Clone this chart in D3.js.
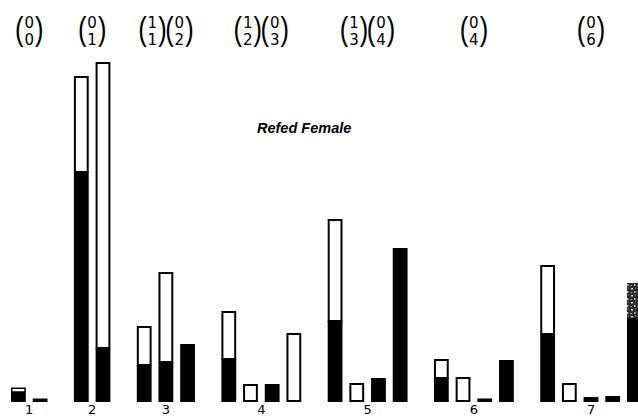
<!DOCTYPE html>
<html>
<head>
<meta charset="utf-8">
<script src="https://cdn.jsdelivr.net/npm/d3@7"></script>
<style>
  html, body { margin: 0; padding: 0; background: #fff; }
  svg { display: block; }
</style>
</head>
<body>
<svg id="chart" width="638" height="418"></svg>
<script>
// ---- data (arbitrary units) ----
const groups = ["1", "2", "3", "4", "5", "6", "7"];
const blackVals = [
  [1.0, 0.35],
  [23.0, 5.4],
  [3.7, 4.0, 5.8],
  [4.3, 0, 1.8, 0],
  [8.1, 0, 2.4, 15.4],
  [2.4, 0, 0.35, 4.2],
  [6.8, 0, 0.5, 0.6, 8.4]
];
const whiteVals = [
  [0.45, 0],
  [9.6, 28.6],
  [3.9, 9.0, 0],
  [4.8, 1.8, 0, 6.9],
  [10.2, 1.9, 0, 0],
  [1.9, 2.5, 0, 0],
  [6.9, 1.9, 0, 0, 0]
];
const stippleVals = [
  [0, 0],
  [0, 0],
  [0, 0, 0],
  [0, 0, 0, 0],
  [0, 0, 0, 0],
  [0, 0, 0, 0],
  [0, 0, 0, 0, 3.5]
];
// binomial-style annotations above each group: [top, bottom]
const topLabels = [
  [["0", "0"]],
  [["0", "1"]],
  [["1", "1"], ["0", "2"]],
  [["1", "2"], ["0", "3"]],
  [["1", "3"], ["0", "4"]],
  [["0", "4"]],
  [["0", "6"]]
];
const title = "Refed Female";

// ---- layout ----
const svg = d3.select("#chart");
const defs = svg.append("defs");
const pat = defs.append("pattern").attr("id", "stipple")
  .attr("width", 7).attr("height", 7).attr("patternUnits", "userSpaceOnUse");
pat.append("rect").attr("width", 7).attr("height", 7).attr("fill", "#2a2a2a");
pat.append("rect").attr("x", 1).attr("y", 1).attr("width", 2).attr("height", 1.5).attr("fill", "#ddd");
pat.append("rect").attr("x", 4).attr("y", 4).attr("width", 1.5).attr("height", 2).attr("fill", "#bbb");
pat.append("rect").attr("x", 5).attr("y", 0.5).attr("width", 1).attr("height", 1).attr("fill", "#999");
pat.append("rect").attr("x", 0.5).attr("y", 5).attr("width", 1.5).attr("height", 1).attr("fill", "#aaa");

const gapUnits = 0.9;       // extra space between groups, in bar steps
const barW = 14.8;
const bars = [];
let u = 0;
groups.forEach((g, gi) => {
  if (gi > 0) u += gapUnits;
  blackVals[gi].forEach((b, bi) => {
    bars.push({ group: gi, idx: bi, unit: u, black: b, white: whiteVals[gi][bi], stip: stippleVals[gi][bi] });
    u += 1;
  });
});
const lastUnit = u - 1;

const x = d3.scaleLinear().domain([0, lastUnit]).range([11, 627]);
const y = d3.scaleLinear().domain([0, 34]).range([402, 62]);

const groupCenter = groups.map((g, gi) => {
  const bs = bars.filter(b => b.group === gi);
  return (x(bs[0].unit) + x(bs[bs.length - 1].unit) + barW) / 2;
});

const gBars = svg.append("g");
bars.forEach(d => {
  const x0 = x(d.unit);
  if (d.black > 0) {
    gBars.append("rect")
      .attr("x", x0).attr("width", barW)
      .attr("y", y(d.black)).attr("height", y(0) - y(d.black))
      .attr("fill", "#000");
  }
  if (d.white > 0) {
    const top = y(d.black + d.white), bot = y(d.black);
    const sw = d.black > 0 && (bot - top) < 6 ? 1.5 : 2;
    gBars.append("rect")
      .attr("x", x0 + sw / 2).attr("width", barW - sw)
      .attr("y", top + sw / 2).attr("height", Math.max(0.5, bot - top - (d.black > 0 ? sw / 2 : sw)))
      .attr("fill", "#fff").attr("stroke", "#000").attr("stroke-width", sw);
  }
  if (d.stip > 0) {
    const base = d.black + d.white;
    gBars.append("rect")
      .attr("x", x0).attr("width", barW)
      .attr("y", y(base + d.stip)).attr("height", y(base) - y(base + d.stip))
      .attr("fill", "url(#stipple)");
  }
});

// bottom group labels
svg.append("g").selectAll("text").data(groups).join("text")
  .attr("x", (d, i) => groupCenter[i])
  .attr("y", 414)
  .attr("text-anchor", "middle")
  .attr("font-family", "DejaVu Sans, sans-serif")
  .attr("font-size", 13)
  .attr("fill", "#000")
  .text(d => d);

// top annotations
const pairW = 27;
const gTop = svg.append("g");
topLabels.forEach((pairs, gi) => {
  const total = pairs.length * pairW;
  const start = groupCenter[gi] - total / 2;
  pairs.forEach((p, pi) => {
    const cx = start + pi * pairW + pairW / 2;
    gTop.append("text")
      .attr("transform", `translate(${cx - 10},40) scale(0.75,1)`)
      .attr("text-anchor", "middle")
      .attr("font-family", "Liberation Sans, sans-serif")
      .attr("font-size", 34).attr("fill", "#000")
      .text("(");
    gTop.append("text")
      .attr("transform", `translate(${cx + 10},40) scale(0.75,1)`)
      .attr("text-anchor", "middle")
      .attr("font-family", "Liberation Sans, sans-serif")
      .attr("font-size", 34).attr("fill", "#000")
      .text(")");
    gTop.append("text")
      .attr("x", cx).attr("y", 28)
      .attr("text-anchor", "middle")
      .attr("font-family", "DejaVu Sans, sans-serif")
      .attr("font-size", 15).attr("fill", "#000")
      .text(p[0]);
    gTop.append("text")
      .attr("x", cx).attr("y", 45)
      .attr("text-anchor", "middle")
      .attr("font-family", "DejaVu Sans, sans-serif")
      .attr("font-size", 15).attr("fill", "#000")
      .text(p[1]);
  });
});

// title
svg.append("text")
  .attr("x", 257).attr("y", 133)
  .attr("font-family", "Liberation Sans, Arial, sans-serif")
  .attr("font-size", 14.5).attr("font-weight", "bold").attr("font-style", "italic")
  .attr("fill", "#000")
  .text(title);
</script>
</body>
</html>
